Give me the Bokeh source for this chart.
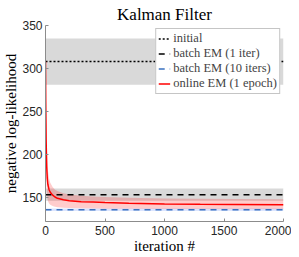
from bokeh.plotting import figure
from bokeh.models import Range1d, Legend, LegendItem
from bokeh.embed import file_html
from bokeh.resources import INLINE

# ---- data ----
iters = [0, 2, 5, 10, 15, 20, 30, 40, 60, 80, 100, 150, 200, 300, 400, 500, 700, 1000, 1300, 1600, 2000]
online_mean = [308, 262, 218, 186, 172, 165, 159, 156, 152.7, 150.5, 149, 147.2, 146.1, 145.1, 144.6, 144.1, 143.3, 142.5, 142.0, 141.7, 141.4]
online_hi = [335, 292, 248, 214, 196, 182, 172, 167, 162, 159, 157.5, 155, 153.5, 152, 151, 150.5, 149.6, 148.9, 148.4, 148.1, 147.8]
online_lo = [281, 232, 188, 160, 150, 146, 143, 141.5, 140, 139.2, 138.6, 138.1, 137.7, 137.3, 137.1, 136.9, 136.7, 136.5, 136.4, 136.3, 136.2]

initial_mean, initial_lo, initial_hi = 308, 281, 335
batch1_mean, batch1_lo, batch1_hi = 153, 146, 160.5
batch10_mean, batch10_lo, batch10_hi = 135.8, 134.2, 137.2

x_ticks = [0, 500, 1000, 1500, 2000]
y_ticks = [150, 200, 250, 300, 350]

x_ends = [iters[0], iters[-1]]

SERIF = "Liberation Serif"
SANS = "Liberation Sans"

p = figure(width=291, height=256, output_backend="svg", toolbar_location=None,
           x_range=Range1d(0, 2000), y_range=Range1d(122, 350),
           title="Kalman Filter",
           min_border_left=0, min_border_right=8, min_border_top=0, min_border_bottom=0)

p.title.text_font = SERIF
p.title.text_font_size = "17px"
p.title.text_font_style = "normal"
p.title.align = "center"
p.title.standoff = 4
p.title.text_color = "black"

p.outline_line_color = None
p.grid.visible = False
p.background_fill_color = "white"
p.border_fill_color = "white"

# bands
p.varea(x=x_ends, y1=[initial_lo] * 2, y2=[initial_hi] * 2, fill_color="#d9d9d9")
p.varea(x=x_ends, y1=[batch1_lo] * 2, y2=[batch1_hi] * 2, fill_color="#d9d9d9")
p.varea(x=iters, y1=online_lo, y2=online_hi, fill_color="#ff0000", fill_alpha=0.2)
p.varea(x=x_ends, y1=[batch10_lo] * 2, y2=[batch10_hi] * 2, fill_color="#4d7fff", fill_alpha=0.2)

# lines
r_init = p.line(x_ends, [initial_mean] * 2, line_color="black", line_width=1.5, line_dash="2 2")
r_b1 = p.line(x_ends, [batch1_mean] * 2, line_color="black", line_width=1.5, line_dash="6 5")
r_b10 = p.line(x_ends, [batch10_mean] * 2, line_color="#3a72c0", line_width=1.5, line_dash="6 5")
r_on = p.line(iters, online_mean, line_color="#ff0000", line_width=1.5)

# axes
for ax in (p.xaxis[0], p.yaxis[0]):
    ax.axis_line_color = "#8c8c8c"
    ax.major_tick_line_color = "#8c8c8c"
    ax.major_tick_in = 3
    ax.major_tick_out = 0
    ax.minor_tick_line_color = None
    ax.major_label_text_font = SANS
    ax.major_label_text_font_size = "12px"
    ax.major_label_text_color = "#262626"
    ax.axis_label_text_font = SERIF
    ax.axis_label_text_font_size = "15px"
    ax.axis_label_text_font_style = "normal"
    ax.axis_label_text_color = "black"

p.xaxis.ticker = x_ticks
p.yaxis.ticker = y_ticks
p.xaxis.axis_label = "iteration #"
p.yaxis.axis_label = "negative log-likelihood"
p.xaxis.major_label_standoff = 4
p.yaxis.major_label_standoff = 3
p.yaxis.axis_label_standoff = 0
p.xaxis.axis_label_standoff = 0

legend = Legend(items=[
    LegendItem(label="initial", renderers=[r_init]),
    LegendItem(label="batch EM (1 iter)", renderers=[r_b1]),
    LegendItem(label="batch EM (10 iters)", renderers=[r_b10]),
    LegendItem(label="online EM (1 epoch)", renderers=[r_on]),
], location="top_right")
legend.label_text_font = SERIF
legend.label_text_font_size = "12.5px"
legend.label_height = 11
legend.glyph_height = 11
legend.glyph_width = 12
legend.label_standoff = 3
legend.spacing = 0
legend.padding = 2
legend.margin = 3
legend.border_line_color = "#8c8c8c"
legend.border_line_width = 1
legend.background_fill_color = "white"
legend.background_fill_alpha = 1
p.add_layout(legend, "center")

open("out.html", "w").write(file_html(p, INLINE))
